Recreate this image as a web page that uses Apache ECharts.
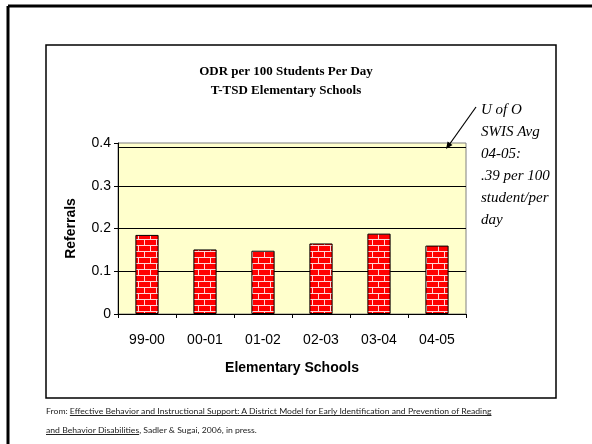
<!DOCTYPE html>
<html>
<head>
<meta charset="utf-8">
<script src="https://cdn.jsdelivr.net/npm/echarts@6/dist/echarts.min.js"></script>
<style>
html, body { margin: 0; padding: 0; background: #fff; }
#chart { width: 592px; height: 444px; }
.src { position: absolute; left: 46px; font-family: 'Lato', sans-serif; font-size: 8px; color: #222;
       white-space: nowrap; transform-origin: 0 0; }
</style>
</head>
<body>
<div id="chart"></div>
<div class="src" id="src1" style="top:406px">From: <u>Effective Behavior and Instructional Support: A District Model for Early Identification and Prevention of Reading</u></div>
<div class="src" id="src2" style="top:425px"><u>and Behavior Disabilities</u>, Sadler &amp; Sugai, 2006, in press.</div>
<script>
// data
var years = ['99-00', '00-01', '01-02', '02-03', '03-04', '04-05'];
var odr = [0.185, 0.151, 0.148, 0.165, 0.188, 0.160];
var yTicks = [0, 0.1, 0.2, 0.3, 0.4];
var swisAvg = 0.39;
var noteLines = ['U of O', 'SWIS Avg', '04-05:', '.39 per 100', 'student/per', 'day'];

// red brick fill, like the old excel pattern
function brick() {
    var c = document.createElement('canvas');
    c.width = 12; c.height = 12;
    var g = c.getContext('2d');
    g.fillStyle = '#ff0000';
    g.fillRect(0, 0, 12, 12);
    g.fillStyle = '#ffd6d6';
    g.fillRect(0, 5, 12, 1);
    g.fillRect(0, 11, 12, 1);
    g.fillRect(0, 0, 1, 5);
    g.fillRect(6, 6, 1, 5);
    return c;
}

var chart = echarts.init(document.getElementById('chart'));
var arial = 'Arial, "Liberation Sans", sans-serif';
var serif = '"Times New Roman", "Liberation Serif", serif';

chart.setOption({
    animation: false,
    title: {
        text: 'ODR per 100 Students Per Day\nT-TSD Elementary Schools',
        left: 281,
        top: 57,
        textAlign: 'center',
        textStyle: { fontFamily: serif, fontWeight: 'bold', fontSize: 13, lineHeight: 19, color: '#000' }
    },
    grid: {
        left: 118, right: 126, top: 143, bottom: 130,
        show: true, backgroundColor: '#ffffcc', borderColor: '#808080', borderWidth: 1
    },
    xAxis: {
        type: 'category',
        data: years,
        name: 'Elementary Schools',
        nameLocation: 'middle',
        nameGap: 47,
        nameTextStyle: { fontFamily: arial, fontWeight: 'bold', fontSize: 14, color: '#000' },
        axisLine: { lineStyle: { color: '#000', width: 1 } },
        axisTick: { show: true, length: 4, lineStyle: { color: '#000' } },
        axisLabel: { fontFamily: arial, fontSize: 14, color: '#000', margin: 19 }
    },
    yAxis: {
        type: 'value',
        min: yTicks[0],
        max: yTicks[yTicks.length - 1],
        interval: 0.1,
        name: 'Referrals',
        nameLocation: 'middle',
        nameGap: 40,
        nameTextStyle: { fontFamily: arial, fontWeight: 'bold', fontSize: 14, color: '#000' },
        axisLine: { show: true, lineStyle: { color: '#000', width: 1 } },
        axisTick: { show: true, length: 4, lineStyle: { color: '#000' } },
        axisLabel: { fontFamily: arial, fontSize: 14, color: '#000', margin: 7 },
        splitLine: { show: true, showMinLine: false, showMaxLine: false, lineStyle: { color: '#000', width: 1 } }
    },
    series: [{
        type: 'bar',
        data: odr,
        barWidth: '40%',
        itemStyle: {
            color: { image: brick(), repeat: 'repeat' },
            borderColor: '#000',
            borderWidth: 1
        },
        markLine: {
            silent: true,
            symbol: 'none',
            label: { show: false },
            lineStyle: { color: '#000', type: 'solid', width: 1 },
            data: [{ yAxis: swisAvg }]
        }
    }],
    graphic: [
        // slide frame
        { type: 'line', shape: { x1: 8, y1: 6, x2: 592, y2: 6 }, style: { stroke: '#000', lineWidth: 3 } },
        { type: 'line', shape: { x1: 8, y1: 6, x2: 8, y2: 444 }, style: { stroke: '#000', lineWidth: 3 } },
        // chart box
        { type: 'rect', shape: { x: 46, y: 45, width: 510, height: 353 },
          style: { fill: 'none', stroke: '#000', lineWidth: 1.5 } },
        // note
        { type: 'text', x: 481, y: 99,
          style: { text: noteLines.join('\n'), font: 'italic 15px ' + serif, lineHeight: 22, fill: '#000' } },
        { type: 'line', shape: { x1: 476, y1: 107, x2: 449, y2: 145 }, style: { stroke: '#000', lineWidth: 1.2 } },
        { type: 'polygon', shape: { points: [[446, 149], [452.5, 145], [447.6, 141.6]] },
          style: { fill: '#000' } }
    ]
});

// squeeze the source note to the width it has in the slide
var s1 = document.getElementById('src1');
var s2 = document.getElementById('src2');
var k = 445 / s1.offsetWidth;
s1.style.transform = 'scaleX(' + k + ')';
s2.style.transform = 'scaleX(' + k + ')';
</script>
</body>
</html>
